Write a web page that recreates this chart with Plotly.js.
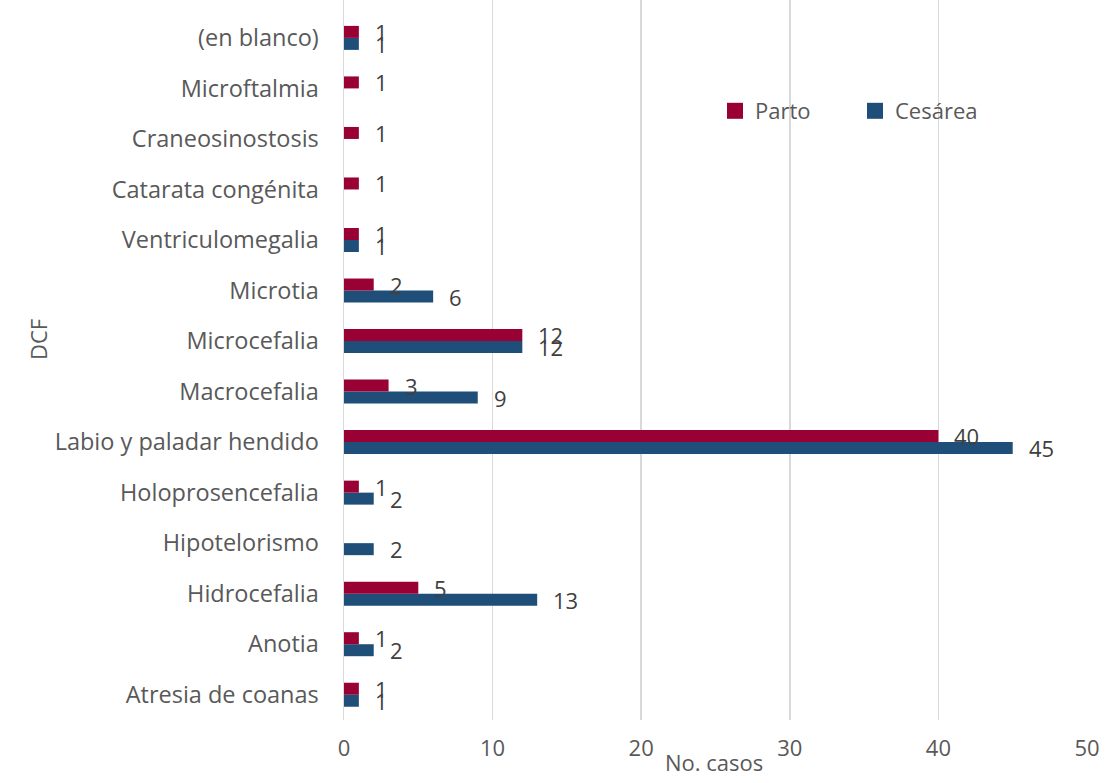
<!DOCTYPE html>
<html>
<head>
<meta charset="utf-8">
<script src="https://cdn.plot.ly/plotly-3.0.1.min.js"></script>
<style>html,body{margin:0;padding:0;background:#fff;}#chart{width:1112px;height:783px;}</style>
</head>
<body>
<div id="chart"></div>
<script>
const categories = ["Atresia de coanas","Anotia","Hidrocefalia","Hipotelorismo","Holoprosencefalia","Labio y paladar hendido","Macrocefalia","Microcefalia","Microtia","Ventriculomegalia","Catarata congénita","Craneosinostosis","Microftalmia","(en blanco)"];
const parto   = [1, 1, 5, null, 1, 40, 3, 12, 2, 1, 1, 1, 1, 1];
const cesarea = [1, 2, 13, 2, 2, 45, 9, 12, 6, 1, null, null, null, 1];
const xTicks = [0, 10, 20, 30, 40, 50];
const seriesNames = ["Parto", "Cesárea"];

const FONT = "'Open Sans', sans-serif";
const TXT = "#595959";
const RED = "#990033";
const BLUE = "#1F4E79";

const traces = [
  {type:"bar", orientation:"h", name:seriesNames[1], y:categories, x:cesarea, marker:{color:BLUE}, showlegend:false, hoverinfo:"x+y"},
  {type:"bar", orientation:"h", name:seriesNames[0], y:categories, x:parto, marker:{color:RED}, showlegend:false, hoverinfo:"x+y"},
  // legend swatches only
  {type:"scatter", mode:"markers", name:seriesNames[0], x:[null], y:[null], marker:{symbol:"square", size:16, color:RED}, hoverinfo:"skip"},
  {type:"scatter", mode:"markers", name:seriesNames[1], x:[null], y:[null], marker:{symbol:"square", size:16, color:BLUE}, hoverinfo:"skip"}
];

const L=344, R=25, T=0, B=63, W=1112, H=783;
const pw=W-L-R, ph=H-T-B;
const px = v => (v-L)/pw;
const py = v => 1-(v-T)/ph;

const annotations = [];
function addLabels(vals, shift){
  vals.forEach((v,i)=>{
    if(v===null) return;
    annotations.push({x:v, y:categories[i], xref:"x", yref:"y", text:String(v), showarrow:false,
      xanchor:"left", yanchor:"middle", xshift:14, yshift:shift, font:{family:FONT, size:22, color:"#404040"}});
  });
}
addLabels(parto, 6);
addLabels(cesarea, -6);
annotations.push({x:px(38), y:py(340), xref:"paper", yref:"paper", text:"DCF", showarrow:false, textangle:-90,
  xanchor:"center", yanchor:"middle", font:{family:FONT, size:22, color:TXT}});
annotations.push({x:px(714), y:py(762), xref:"paper", yref:"paper", text:"No. casos", showarrow:false,
  xanchor:"center", yanchor:"middle", font:{family:FONT, size:22, color:TXT}});

const layout = {
  width:W, height:H,
  margin:{l:L, r:R, t:T, b:B, pad:0},
  paper_bgcolor:"#fff", plot_bgcolor:"#fff",
  font:{family:FONT, size:22, color:TXT},
  barmode:"group", bargap:0.525, bargroupgap:0,
  showlegend:true,
  legend:{orientation:"h", x:px(715), y:py(111), xanchor:"left", yanchor:"middle",
    entrywidth:95, entrywidthmode:"pixels", traceorder:"normal", itemsizing:"trace",
    font:{family:FONT, size:22, color:TXT}, bgcolor:"rgba(0,0,0,0)"},
  xaxis:{range:[0,50], tickvals:xTicks, ticktext:xTicks.map(String), showgrid:true, gridcolor:"#D9D9D9", gridwidth:1.5,
    zeroline:false, showline:false, ticks:"outside", ticklen:9, tickcolor:"rgba(0,0,0,0)",
    tickfont:{family:FONT, size:22, color:TXT}, fixedrange:true},
  yaxis:{type:"category", categoryorder:"array", categoryarray:categories, range:[-0.5, 13.75],
    showgrid:false, zeroline:false, showline:true, linecolor:"#D9D9D9", linewidth:1.5,
    ticks:"outside", ticklen:19, tickcolor:"rgba(0,0,0,0)", tickfont:{family:FONT, size:23.5, color:TXT}, automargin:false, fixedrange:true},
  annotations:annotations
};
Plotly.newPlot("chart", traces, layout, {displayModeBar:false, staticPlot:true});
</script>
</body>
</html>
